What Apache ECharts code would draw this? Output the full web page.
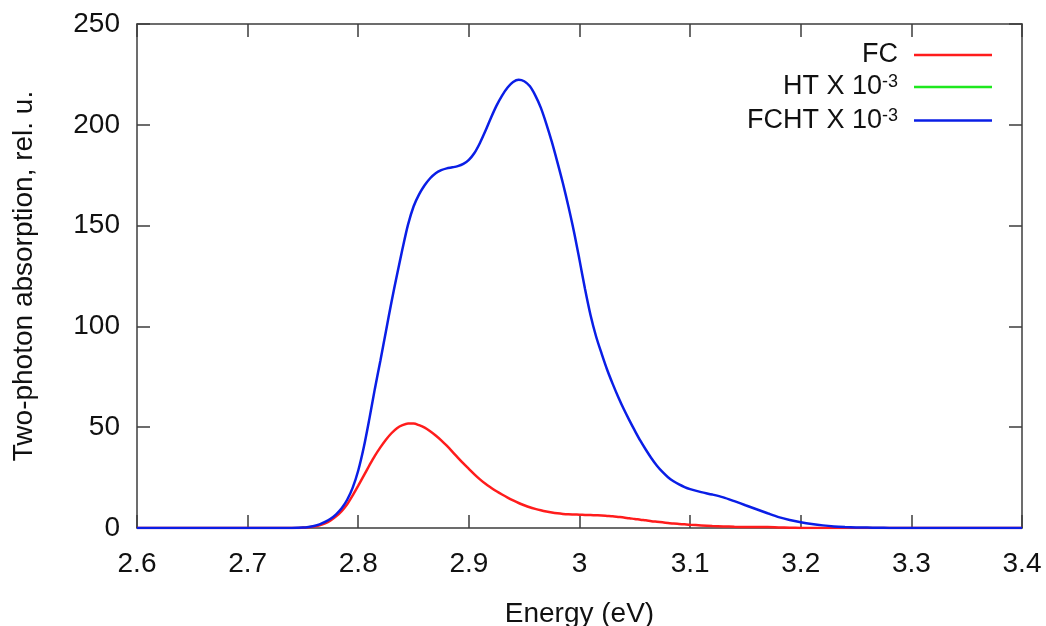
<!DOCTYPE html>
<html>
<head>
<meta charset="utf-8">
<script src="https://cdn.jsdelivr.net/npm/echarts@6/dist/echarts.min.js"></script>
<style>
html,body{margin:0;padding:0;background:#fff;}
#chart{width:1046px;height:626px;}
</style>
</head>
<body>
<div id="chart"></div>
<script>
// Energy grid (eV)
const energy = [
  2.60, 2.70, 2.74, 2.750, 2.755, 2.760, 2.765, 2.770, 2.775, 2.780,
  2.785, 2.790, 2.795, 2.800, 2.805, 2.810, 2.815, 2.820, 2.825, 2.830,
  2.835, 2.840, 2.845, 2.850, 2.855, 2.860, 2.865, 2.870, 2.875, 2.880,
  2.885, 2.890, 2.895, 2.900, 2.905, 2.910, 2.915, 2.920, 2.925, 2.930,
  2.935, 2.940, 2.945, 2.950, 2.955, 2.960, 2.965, 2.970, 2.975, 2.980,
  2.985, 2.990, 2.995, 3.000, 3.005, 3.010, 3.015, 3.020, 3.025, 3.030,
  3.035, 3.040, 3.045, 3.050, 3.055, 3.060, 3.065, 3.070, 3.075, 3.080,
  3.085, 3.090, 3.095, 3.100, 3.110, 3.120, 3.130, 3.140, 3.150, 3.160,
  3.170, 3.180, 3.190, 3.200, 3.210, 3.220, 3.230, 3.240, 3.250, 3.260,
  3.270, 3.280, 3.300, 3.400
];
// FC
const fc = [
  0, 0, 0, 0.2, 0.4, 0.7, 1.3, 2.3, 3.8, 5.8,
  8.4, 11.8, 16.2, 21.0, 26.0, 31.0, 35.8, 40.0, 43.8, 47.0,
  49.5, 51.0, 51.8, 51.8, 51.0, 49.8, 48.0, 45.9, 43.5, 40.8,
  37.9, 34.9, 32.0, 29.3, 26.6, 24.1, 21.9, 20.0, 18.2, 16.6,
  15.1, 13.7, 12.4, 11.3, 10.3, 9.5, 8.8, 8.2, 7.7, 7.3,
  7.0, 6.8, 6.7, 6.6, 6.5, 6.4, 6.3, 6.2, 6.0, 5.8,
  5.5, 5.2, 4.8, 4.5, 4.1, 3.8, 3.4, 3.1, 2.8, 2.5,
  2.2, 2.0, 1.8, 1.6, 1.3, 1.0, 0.8, 0.6, 0.5, 0.5,
  0.5, 0.3, 0.15, 0.05, 0, 0, 0, 0, 0, 0,
  0, 0, 0, 0
];
// HT x 10^-3 (lies on the baseline, hidden under the FCHT curve in the original)
const ht = [
  0, 0, 0, 0, 0, 0, 0, 0, 0, 0,
  0, 0, 0, 0, 0, 0, 0, 0, 0, 0,
  0, 0, 0, 0, 0, 0, 0, 0, 0, 0,
  0, 0, 0, 0, 0, 0, 0, 0, 0, 0,
  0, 0, 0, 0, 0, 0, 0, 0, 0, 0,
  0, 0, 0, 0, 0, 0, 0, 0, 0, 0,
  0, 0, 0, 0, 0, 0, 0, 0, 0, 0,
  0, 0, 0, 0, 0, 0, 0, 0, 0, 0,
  0, 0, 0, 0, 0, 0, 0, 0, 0, 0,
  0, 0, 0, 0
];
// FCHT x 10^-3
const fcht = [
  0, 0, 0, 0.2, 0.5, 1.0, 1.8, 3.0, 4.6, 6.8,
  9.8, 14.0, 20.0, 28.5, 40.0, 54.0, 69.0, 83.0, 97.5, 112.0,
  125.5, 138.5, 150.5, 159.5, 165.5, 170.0, 173.5, 176.0, 177.5, 178.4,
  178.9, 179.5, 180.6, 182.6, 186.0, 191.0, 197.0, 203.5, 209.5, 214.5,
  218.5, 221.2, 222.3, 221.6, 219.2, 214.6, 208.5, 200.5, 191.5, 181.5,
  171.0, 159.5, 147.0, 133.0, 118.5, 105.5, 95.0, 86.5, 78.5, 71.5,
  65.0, 59.0, 53.5, 48.3, 43.3, 38.8, 34.6, 30.9, 27.8, 25.2,
  23.2, 21.6, 20.3, 19.3, 17.8, 16.6, 15.2, 13.3, 11.3, 9.3,
  7.3, 5.4, 4.0, 2.9, 2.0, 1.3, 0.8, 0.5, 0.3, 0.2,
  0.1, 0.05, 0, 0
];

const xTicks = { min: 2.6, max: 3.4, interval: 0.1 };
const yTicks = { min: 0, max: 250, interval: 50 };
const legendLabels = { FC: 'FC', HT: '{b|HT X 10}{s|-3}', FCHT: '{b|FCHT X 10}{s|-3}' };
const colors = { FC: '#ff1c1c', HT: '#1ee81e', FCHT: '#0a1ee6' };

const FONT = "'Liberation Sans', Arial, sans-serif";
const axisColor = '#3c3c3c';
const textColor = '#111';

function pairs(vals) { return energy.map((e, i) => [e, vals[i]]); }

const baseAxis = {
  axisLine: { show: true, onZero: false, lineStyle: { color: axisColor, width: 1.5 } },
  axisTick: { show: true, inside: true, length: 13, lineStyle: { color: axisColor, width: 1.5 } },
  splitLine: { show: false }
};

function legendFor(name, top) {
  return {
    data: [{ name: name, itemStyle: { color: colors[name], opacity: 1 } }],
    right: 54, top: top, orient: 'vertical', align: 'right', padding: 0,
    icon: 'rect', itemWidth: 78, itemHeight: 2.5,
    formatter: n => legendLabels[n],
    textStyle: {
      fontFamily: FONT, fontSize: 27, color: textColor, padding: [0, 11, 0, 0],
      rich: {
        b: { fontFamily: FONT, fontSize: 27, color: textColor, lineHeight: 27, verticalAlign: 'bottom' },
        s: { fontFamily: FONT, fontSize: 18, color: textColor, lineHeight: 18, verticalAlign: 'top', padding: [0, 0, 15, 0] }
      }
    },
    selectedMode: false
  };
}

const chart = echarts.init(document.getElementById('chart'), null, { renderer: 'canvas' });
chart.setOption({
  animation: false,
  backgroundColor: '#fff',
  textStyle: { fontFamily: FONT },
  grid: { left: 137, right: 24, top: 24, bottom: 98, containLabel: false, outerBoundsMode: 'none' },
  legend: [legendFor('FC', 41.5), legendFor('HT', 73.5), legendFor('FCHT', 107)],
  xAxis: [
    Object.assign({}, baseAxis, {
      type: 'value', position: 'bottom', min: xTicks.min, max: xTicks.max, interval: xTicks.interval,
      axisLabel: { fontSize: 28, color: textColor, margin: 22, fontFamily: FONT },
      name: 'Energy (eV)', nameLocation: 'middle', nameGap: 72,
      nameTextStyle: { fontSize: 28, color: textColor, fontFamily: FONT }
    }),
    Object.assign({}, baseAxis, {
      type: 'value', position: 'top', min: xTicks.min, max: xTicks.max, interval: xTicks.interval,
      axisLabel: { show: false }
    })
  ],
  yAxis: [
    Object.assign({}, baseAxis, {
      type: 'value', position: 'left', min: yTicks.min, max: yTicks.max, interval: yTicks.interval,
      axisLabel: { fontSize: 28, color: textColor, margin: 17, fontFamily: FONT },
      name: 'Two-photon absorption, rel. u.', nameLocation: 'middle', nameGap: 99,
      nameTextStyle: { fontSize: 28, color: textColor, fontFamily: FONT }
    }),
    Object.assign({}, baseAxis, {
      type: 'value', position: 'right', min: yTicks.min, max: yTicks.max, interval: yTicks.interval,
      axisLabel: { show: false }
    })
  ],
  series: [
    { name: 'HT', data: ht, z: 1, lineOpacity: 0 },
    { name: 'FC', data: fc, z: 3, lineOpacity: 1 },
    { name: 'FCHT', data: fcht, z: 4, lineOpacity: 1 }
  ].map(s => ({
    name: s.name, type: 'line', data: pairs(s.data), xAxisIndex: 0, yAxisIndex: 0, z: s.z,
    showSymbol: false, symbol: 'none', smooth: 0.3,
    lineStyle: { color: colors[s.name], width: 2.5, opacity: s.lineOpacity },
    itemStyle: { color: colors[s.name] }
  })),
  color: [colors.HT, colors.FC, colors.FCHT]
});
</script>
</body>
</html>
